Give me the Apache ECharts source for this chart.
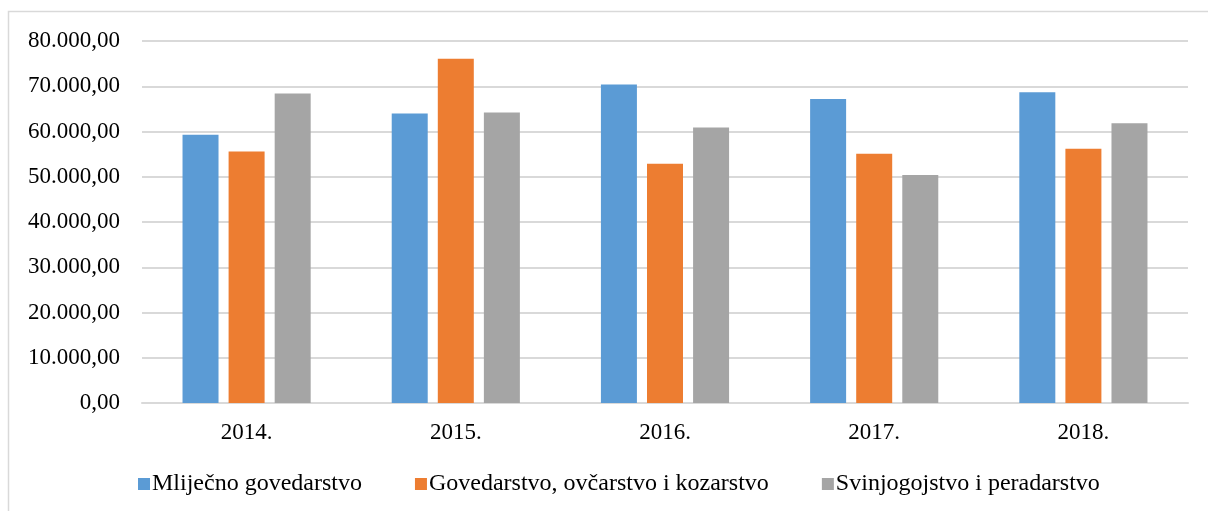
<!DOCTYPE html>
<html>
<head>
<meta charset="utf-8">
<script src="https://cdn.jsdelivr.net/npm/echarts@6/dist/echarts.min.js"></script>
<style>
  html, body { margin: 0; padding: 0; background: #fff; }
  #chart { width: 1208px; height: 511px; }
</style>
</head>
<body>
<div id="chart"></div>
<script>
// podaci
var years = ['2014.', '2015.', '2016.', '2017.', '2018.']
var mlijecno = [59300, 64000, 70400, 67200, 68700]
var govedarstvo = [55600, 76100, 52900, 55100, 56200]
var svinjogojstvo = [68400, 64200, 60900, 50400, 61800]
var seriesNames = ['Mliječno govedarstvo', 'Govedarstvo, ovčarstvo i kozarstvo', 'Svinjogojstvo i peradarstvo']

var font = '"Liberation Serif", "Times New Roman", serif'

function fmt(v) {
  var s = Math.round(v).toString().replace(/\B(?=(\d{3})+(?!\d))/g, '.')
  return s + ',00'
}

var chart = echarts.init(document.getElementById('chart'))
chart.setOption({
  animation: false,
  textStyle: { fontFamily: font },
  graphic: [{
    type: 'polyline',
    shape: { points: [[8.5, 511], [8.5, 11.5], [1208, 11.5]] },
    style: { stroke: '#d9d9d9', lineWidth: 1.5, fill: null }
  }],
  grid: { left: 142, right: 20, top: 41, bottom: 108 },
  legend: {
    left: 133,
    top: 467,
    itemWidth: 12,
    itemHeight: 12,
    itemGap: 53,
    icon: 'rect',
    textStyle: { fontFamily: font, fontSize: 24, color: '#000', padding: [0, 0, 0, -3] },
    data: seriesNames
  },
  xAxis: {
    type: 'category',
    data: years,
    axisLine: { lineStyle: { color: '#d9d9d9', width: 2 } },
    axisTick: { show: false },
    axisLabel: { fontFamily: font, fontSize: 23, color: '#000', margin: 18 }
  },
  yAxis: {
    type: 'value',
    min: 0,
    max: 80000,
    interval: 10000,
    axisLine: { show: false },
    axisTick: { show: false },
    splitLine: { lineStyle: { color: '#d9d9d9', width: 2 } },
    axisLabel: { fontFamily: font, fontSize: 23, color: '#000', margin: 22, formatter: fmt }
  },
  series: [{
    name: seriesNames[0],
    type: 'bar',
    data: mlijecno,
    barWidth: 36,
    barGap: '28%',
    itemStyle: { color: '#5b9bd5' }
  }, {
    name: seriesNames[1],
    type: 'bar',
    data: govedarstvo,
    barWidth: 36,
    barGap: '28%',
    itemStyle: { color: '#ed7d31' }
  }, {
    name: seriesNames[2],
    type: 'bar',
    data: svinjogojstvo,
    barWidth: 36,
    barGap: '28%',
    itemStyle: { color: '#a5a5a5' }
  }]
})
</script>
</body>
</html>
